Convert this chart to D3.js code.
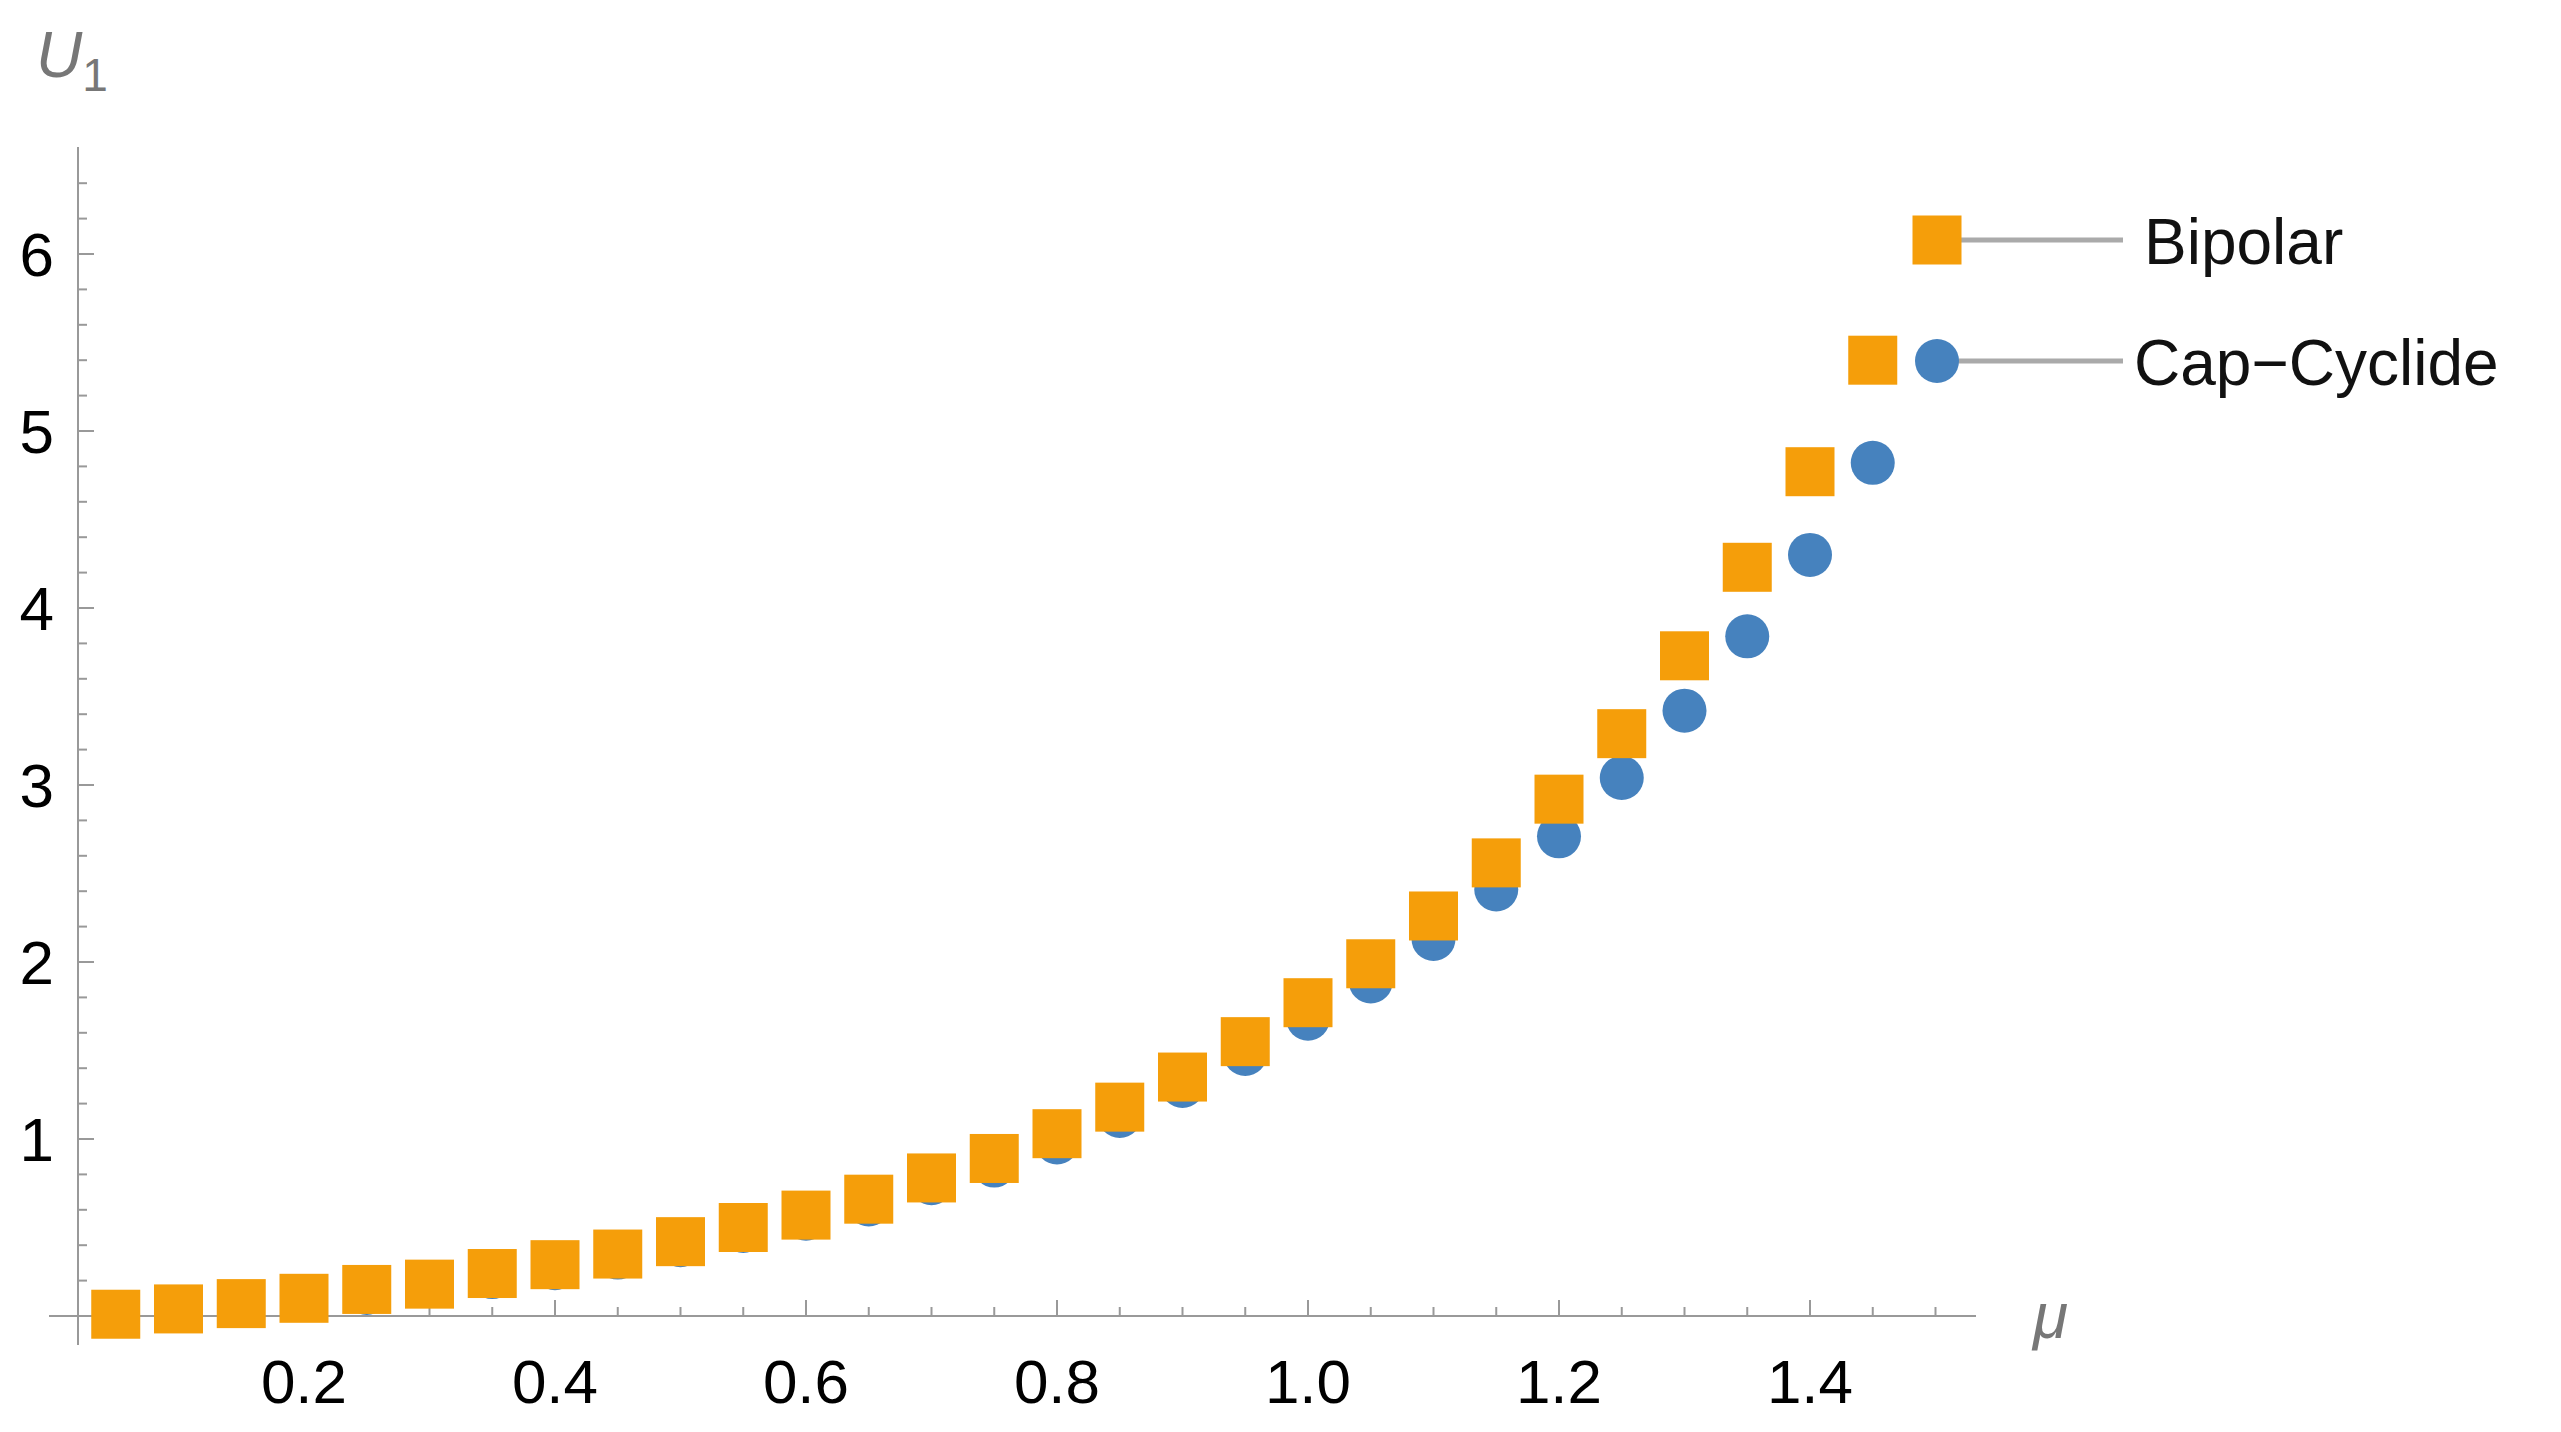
<!DOCTYPE html>
<html>
<head>
<meta charset="utf-8">
<script src="https://cdn.jsdelivr.net/npm/d3@7"></script>
<style>
  body { margin: 0; background: #fff; }
  text { font-family: "Liberation Sans", Arial, sans-serif; }
</style>
</head>
<body>
<script>
// data
var mu = [0.05,0.10,0.15,0.20,0.25,0.30,0.35,0.40,0.45,0.50,0.55,0.60,0.65,0.70,0.75,
          0.80,0.85,0.90,0.95,1.00,1.05,1.10,1.15,1.20,1.25,1.30,1.35,1.40,1.45];
var bipolar = [0.01,0.04,0.07,0.10,0.15,0.18,0.24,0.29,0.35,0.42,0.50,0.57,0.66,0.78,0.89,
               1.03,1.18,1.35,1.55,1.77,1.99,2.26,2.56,2.92,3.29,3.73,4.23,4.77,5.40];
var capCyclide = [0.01,0.03,0.06,0.09,0.13,0.17,0.22,0.27,0.33,0.40,0.48,0.55,0.63,0.75,0.85,
                  0.98,1.13,1.30,1.48,1.68,1.89,2.13,2.41,2.71,3.04,3.42,3.84,4.30,4.82];
var xTicks = [0.2,0.4,0.6,0.8,1.0,1.2,1.4];
var yTicks = [1,2,3,4,5,6];
var seriesNames = ["Bipolar", "Cap\u2212Cyclide"];

var W = 2561, H = 1432;
var orange = "#F59E0A", blue = "#4682BE";

var svg = d3.select("body").append("svg").attr("width", W).attr("height", H);

var x = d3.scaleLinear().domain([0, 1]).range([53, 1308]);
var y = d3.scaleLinear().domain([0, 1]).range([1316, 1139]);

// axes
var axisColor = "#999";
var g = svg.append("g");
g.append("line").attr("x1", 49).attr("x2", 1976).attr("y1", y(0)).attr("y2", y(0))
  .attr("stroke", axisColor).attr("stroke-width", 2);
g.append("line").attr("x1", 78).attr("x2", 78).attr("y1", 147).attr("y2", 1345)
  .attr("stroke", axisColor).attr("stroke-width", 2);

// x ticks (every 0.05, major at 0.2)
d3.range(1, 31).forEach(function(i) {
  var v = i * 0.05, major = (i % 4 === 0);
  g.append("line").attr("x1", x(v)).attr("x2", x(v))
    .attr("y1", y(0)).attr("y2", y(0) - (major ? 16 : 9))
    .attr("stroke", axisColor).attr("stroke-width", 2);
});
// y ticks (every 0.2, major at 1)
d3.range(1, 33).forEach(function(i) {
  var v = i * 0.2, major = (i % 5 === 0);
  g.append("line").attr("x1", 78).attr("x2", 78 + (major ? 16 : 9))
    .attr("y1", y(v)).attr("y2", y(v))
    .attr("stroke", axisColor).attr("stroke-width", 2);
});

g.selectAll(".xl").data(xTicks).enter().append("text")
  .attr("x", function(d) { return x(d); }).attr("y", 1403)
  .attr("text-anchor", "middle").attr("font-size", 62)
  .text(function(d) { return d.toFixed(1); });
g.selectAll(".yl").data(yTicks).enter().append("text")
  .attr("x", 54).attr("y", function(d) { return y(d) + 22; })
  .attr("text-anchor", "end").attr("font-size", 62)
  .text(function(d) { return d; });

// axis labels
var ul = svg.append("text").attr("x", 36).attr("y", 77)
  .attr("font-size", 64).attr("font-style", "italic").attr("fill", "#777");
ul.append("tspan").text("U");
ul.append("tspan").attr("font-size", 46).attr("font-style", "normal").attr("dy", 14).text("1");
svg.append("text").attr("x", 2033).attr("y", 1338)
  .attr("font-size", 64).attr("font-style", "italic").attr("fill", "#777").text("\u03bc");

// points
var s = 49;
svg.append("g").selectAll("circle")
  .data(mu).enter().append("circle")
  .attr("cx", function(d) { return x(d); })
  .attr("cy", function(d, i) { return y(capCyclide[i]); })
  .attr("r", 22).attr("fill", blue);
svg.append("g").selectAll("rect")
  .data(mu).enter().append("rect")
  .attr("x", function(d) { return x(d) - s / 2; })
  .attr("y", function(d, i) { return y(bipolar[i]) - s / 2; })
  .attr("width", s).attr("height", s).attr("fill", orange);

// legend
var legend = svg.selectAll(".legend").data(seriesNames).enter().append("g")
  .attr("class", "legend")
  .attr("transform", function(d, i) { return "translate(1937," + (240 + i * 121) + ")"; });
legend.append("line").attr("x1", 16).attr("x2", 186).attr("y1", 0).attr("y2", 0)
  .attr("stroke", "#aaa").attr("stroke-width", 5);
legend.each(function(d, i) {
  var l = d3.select(this);
  if (i === 0) l.append("rect").attr("x", -s / 2).attr("y", -s / 2).attr("width", s).attr("height", s).attr("fill", orange);
  else l.append("circle").attr("r", 22).attr("fill", blue);
});
legend.append("text").attr("x", function(d, i) { return i === 0 ? 207 : 197; })
  .attr("y", 24).attr("font-size", 64).attr("fill", "#111")
  .text(function(d) { return d; });
</script>
</body>
</html>
